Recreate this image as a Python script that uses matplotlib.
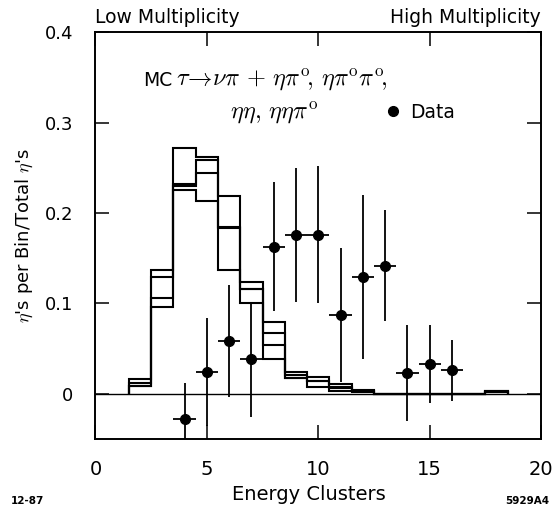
#!/usr/bin/env python3
# eta multiplicity per energy-cluster bin: MC histogram band vs data points
import matplotlib
matplotlib.use("Agg")
import matplotlib.pyplot as plt
from matplotlib.lines import Line2D

plt.rcParams["mathtext.fontset"] = "cm"

# MC histogram: bin edges and four overlaid MC variants (one level per bin)
edges = [1.5, 2.5, 3.5, 4.5, 5.5, 6.5, 7.5, 8.5, 9.5, 10.5, 11.5, 12.5,
         13.5, 14.5, 15.5, 16.5, 17.5, 18.5]
mc_a = [0.016, 0.137, 0.272, 0.262, 0.219, 0.124, 0.079, 0.024, 0.019, 0.011, 0.004,
        0, 0, 0, 0, 0, 0.003]
mc_b = [0.012, 0.129, 0.232, 0.259, 0.185, 0.116, 0.067, 0.021, 0.014, 0.007, 0.003,
        0, 0, 0, 0, 0, 0.003]
mc_c = [0.009, 0.106, 0.230, 0.244, 0.183, 0.116, 0.054, 0.018, 0.014, 0.006, 0.003,
        0, 0, 0, 0, 0, 0.002]
mc_d = [0.009, 0.096, 0.226, 0.213, 0.137, 0.100, 0.038, 0.018, 0.008, 0.003, 0.002,
        0, 0, 0, 0, 0, 0.002]

# data points
clusters = [4, 5, 6, 7, 8, 9, 10, 11, 12, 13, 14, 15, 16]
frac = [-0.028, 0.024, 0.058, 0.038, 0.163, 0.176, 0.176, 0.087, 0.129, 0.142,
        0.023, 0.033, 0.026]
frac_err = [0.040, 0.060, 0.062, 0.064, 0.071, 0.074, 0.076, 0.074, 0.091, 0.061,
            0.053, 0.043, 0.034]

fig = plt.figure(figsize=(5.55, 5.12), dpi=100)
ax = fig.add_axes([0.172, 0.1426, 0.803, 0.794])

for mc in (mc_a, mc_b, mc_c, mc_d):
    ax.stairs(mc, edges, baseline=0, fill=False, color="black", lw=1.5)

ax.axhline(0, color="black", lw=1.0)
ax.errorbar(clusters, frac, yerr=frac_err, xerr=0.5, fmt="o", color="black",
            ms=7, elinewidth=1.3, capsize=0)

ax.set_xlim(0, 20)
ax.set_ylim(-0.05, 0.4)
ax.set_xticks([0, 5, 10, 15, 20])
ax.set_yticks([0, 0.1, 0.2, 0.3, 0.4])
ax.set_yticklabels(["0", "0.1", "0.2", "0.3", "0.4"])
ax.tick_params(direction="in", length=10, width=1.1, top=True, right=True)
ax.tick_params(axis="x", pad=15, labelsize=14)
ax.tick_params(axis="y", pad=16, labelsize=13)
for s in ax.spines.values():
    s.set_linewidth(1.4)

ax.set_ylabel(r"$\eta$'s per Bin/Total $\eta$'s", fontsize=13, labelpad=7)
fig.text(0.557, 0.035, "Energy Clusters", fontsize=14, ha="center", va="center")

fig.text(0.172, 0.965, "Low Multiplicity", fontsize=13.5, ha="left", va="center")
fig.text(0.975, 0.965, "High Multiplicity", fontsize=13.5, ha="right", va="center")
fig.text(0.02, 0.022, "12-87", fontsize=7.5, weight="bold", ha="left", va="center")
fig.text(0.99, 0.022, "5929A4", fontsize=7.5, weight="bold", ha="right", va="center")

ax.text(0.106, 0.883, "MC", transform=ax.transAxes, fontsize=13.5,
        ha="left", va="center")
ax.text(0.18, 0.883,
        r"$\tau\!\rightarrow\!\nu\pi\,+\,\eta\pi^{\mathrm{o}}\!,\,\eta\pi^{\mathrm{o}}\pi^{\mathrm{o}}\!,$",
        transform=ax.transAxes, fontsize=17.5, ha="left", va="center")
ax.text(0.302, 0.802, r"$\eta\eta,\,\eta\eta\pi^{\mathrm{o}}$",
        transform=ax.transAxes, fontsize=17.5, ha="left", va="center")
ax.legend(handles=[Line2D([], [], ls="none", marker="o", color="black", ms=7)],
          labels=["Data"], loc="center left", bbox_to_anchor=(0.63, 0.804),
          frameon=False, fontsize=13.5, handlelength=1.0, handletextpad=0.4,
          borderaxespad=0)

fig.savefig("out.png", dpi=100)
